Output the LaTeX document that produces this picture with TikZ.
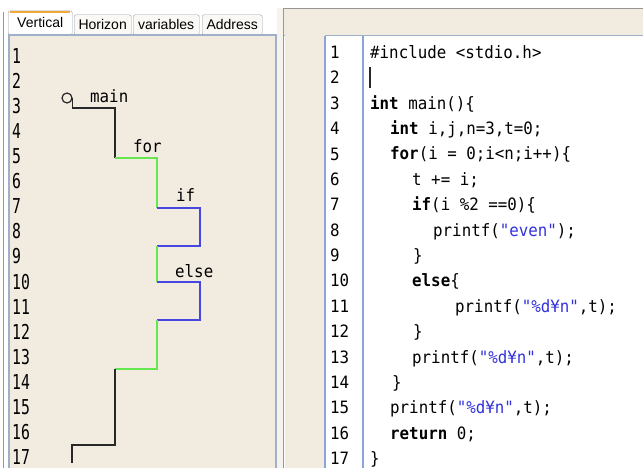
\documentclass[tikz,border=0pt]{standalone}
\usepackage{fontspec}
\setmainfont{Liberation Sans}
\newfontfamily\codefont[FakeStretch=0.93]{DejaVu Sans Mono}
\newfontfamily\numfont[FakeStretch=0.72]{DejaVu Sans Mono}
\definecolor{paper}{RGB}{242,236,224}
\definecolor{panelline}{RGB}{160,176,200}
\definecolor{gutterblue}{RGB}{140,165,215}
\definecolor{grayline}{RGB}{150,150,150}
\definecolor{tabfill}{RGB}{250,249,245}
\definecolor{tabline}{RGB}{150,160,170}
\definecolor{tabtop}{RGB}{240,170,60}
\definecolor{gapfill}{RGB}{246,243,236}
\definecolor{flowgreen}{RGB}{100,230,80}
\definecolor{flowblue}{RGB}{70,70,225}
\definecolor{strblue}{RGB}{50,50,220}
\definecolor{ink}{RGB}{40,40,40}
\newcommand{\kw}[1]{\textbf{#1}}
\newcommand{\strlit}[1]{\textcolor{strblue}{#1}}
\tikzset{
  tabbox/.style={draw=tabline, fill=tabfill, rounded corners=2pt, anchor=south west,
    inner sep=0pt, minimum height=20pt, font=\fontsize{14}{14}\selectfont},
  leftnum/.style={anchor=base west, inner sep=0pt, font=\numfont\fontsize{20.5}{20.5}\selectfont},
  codenum/.style={anchor=base west, inner sep=0pt, font=\codefont\fontsize{17}{17}\selectfont},
  code/.style={anchor=base west, inner sep=0pt, font=\codefont\fontsize{17}{17}\selectfont},
  flowlabel/.style={anchor=base west, inner sep=0pt, font=\codefont\fontsize{17}{17}\selectfont},
  flowblack/.style={draw=ink, line width=1.5pt},
  flowgreen/.style={draw=flowgreen, line width=1.5pt},
  flowblue/.style={draw=flowblue, line width=1.5pt}
}
\begin{document}
\begin{tikzpicture}[x=1pt, y=-1pt]
  \useasboundingbox (0,0) rectangle (643,468);
  % left panel: tabs and content box
  \draw[grayline] (3,12) -- (3,468);
  \node[tabbox, fill=white, minimum width=64pt, minimum height=24pt] (tabvert) at (8,35) {Vertical};
  \draw[tabtop, line width=2pt] (10,12) -- (70,12);
  \node[tabbox, minimum width=57pt] (tabhor) at (74,35) {Horizon};
  \node[tabbox, minimum width=66pt] (tabvar) at (133,35) {variables};
  \node[tabbox, minimum width=60pt] (tabaddr) at (202,35) {Address};
  \filldraw[fill=paper, draw=panelline, line width=1.5pt] (9,35) rectangle (276,472);
  \fill[gapfill] (277,8) rectangle (283,468);
  % right panel: editor
  \fill[paper] (284,8) rectangle (643,35);
  \draw[grayline, line width=1pt] (284,8.5) -- (643,8.5);
  \draw[grayline, line width=1pt] (283.5,8) -- (283.5,468);
  \draw[panelline] (284,35) -- (643,35);
  \fill[paper] (285,35.5) rectangle (325,468);
  \draw[gutterblue, line width=2pt] (325,36) -- (325,468);
  \draw[gutterblue, line width=2pt] (363,36) -- (363,468);
  % line numbers
  \foreach \k in {1,...,17} {
    \node[leftnum] (vnum\k) at (12,{63.5+25.06*(\k-1)}) {\k};
    \node[codenum] (cnum\k) at (330,{58.5+25.38*(\k-1)}) {\k};
  }
  % source code
  \node[code] (code1) at (370,58.5) {\#include <stdio.h>};
  \draw[ink, line width=1.2pt] (370,67) -- (370,88);
  \node[code] (code3) at (370,109.3) {\kw{int} main()\{};
  \node[code] (code4) at (390,134.6) {\kw{int} i,j,n=3,t=0;};
  \node[code] (code5) at (390,160.0) {\kw{for}(i = 0;i<n;i++)\{};
  \node[code] (code6) at (412,185.4) {t += i;};
  \node[code] (code7) at (412,210.8) {\kw{if}(i \%2 ==0)\{};
  \node[code] (code8) at (433,236.2) {printf(\strlit{"even"});};
  \node[code] (code9) at (413,261.5) {\}};
  \node[code] (code10) at (412,286.9) {\kw{else}\{};
  \node[code] (code11) at (455,312.3) {printf(\strlit{"\%d¥n"},t);};
  \node[code] (code12) at (413,337.7) {\}};
  \node[code] (code13) at (412,363.1) {printf(\strlit{"\%d¥n"},t);};
  \node[code] (code14) at (392,388.4) {\}};
  \node[code] (code15) at (390,413.8) {printf(\strlit{"\%d¥n"},t);};
  \node[code] (code16) at (390,439.2) {\kw{return} 0;};
  \node[code] (code17) at (370,464.6) {\}};
  % vertical flow of the program
  \node[draw=ink, line width=1.2pt, circle, minimum size=10pt, inner sep=0pt] (start) at (67,98) {};
  \coordinate (for0) at (115,158);
  \coordinate (if0) at (157,208);
  \coordinate (if1) at (157,246);
  \coordinate (else0) at (157,282);
  \coordinate (else1) at (157,320);
  \coordinate (endfor) at (115,369);
  \coordinate (endmain) at (72,445);
  \draw[flowblack] (start.east) -- ++(0,10) -| (for0);
  \draw[flowgreen] (for0) -| (if0);
  \draw[flowblue] (if0) -- ++(43,0) |- (if1);
  \draw[flowgreen] (if1) -- (else0);
  \draw[flowblue] (else0) -- ++(43,0) |- (else1);
  \draw[flowgreen] (else1) |- (endfor);
  \draw[flowblack] (endfor) |- (endmain) -- ++(0,18);
  \node[flowlabel] (mainlbl) at (90,103) {main};
  \node[flowlabel] (forlbl) at (133,153) {for};
  \node[flowlabel] (iflbl) at (176,202) {if};
  \node[flowlabel] (elselbl) at (175,277) {else};
\end{tikzpicture}
\end{document}
